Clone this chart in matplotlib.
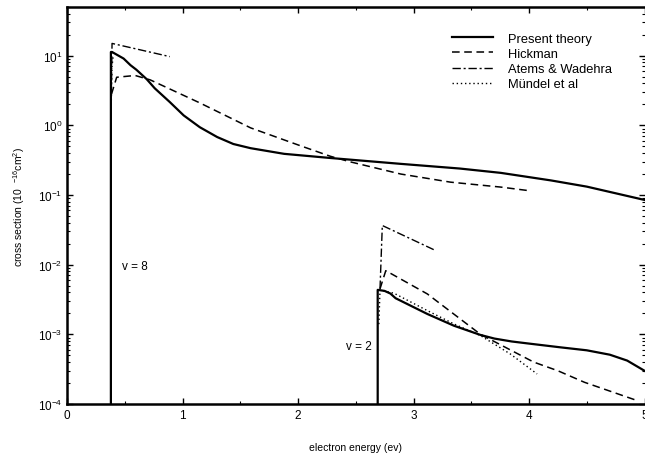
import matplotlib
matplotlib.use("Agg")
import matplotlib.pyplot as plt
from matplotlib.ticker import MultipleLocator, LogLocator, NullFormatter

plt.rcParams['font.family'] = ['Liberation Sans', 'DejaVu Sans']
plt.rcParams['mathtext.fontset'] = 'custom'
plt.rcParams['mathtext.rm'] = 'Liberation Sans'
plt.rcParams['mathtext.it'] = 'Liberation Sans'
plt.rcParams['axes.unicode_minus'] = False

# v = 8 branch
pt8_x = [0.38, 0.38, 0.39, 0.49, 0.55, 0.60, 0.69, 0.76, 0.89, 1.01, 1.15, 1.30, 1.44, 1.59, 1.88,
         2.28, 2.89, 3.40, 3.755, 4.19, 4.5, 5.0]
pt8_y = [1e-4, 11.3, 11.3, 9.1, 7.3, 6.3, 4.6, 3.4, 2.16, 1.39, 0.94, 0.68, 0.54, 0.47, 0.39,
         0.34, 0.28, 0.24, 0.208, 0.162, 0.132, 0.085]
hk8_x = [0.385, 0.43, 0.59, 0.72, 1.15, 1.59, 2.02, 2.28, 2.45, 2.89, 3.32, 3.755, 3.99]
hk8_y = [2.8, 4.9, 5.2, 4.5, 2.1, 0.92, 0.51, 0.36, 0.30, 0.20, 0.153, 0.13, 0.116]
aw8_x = [0.38, 0.39, 0.6, 0.89]
aw8_y = [0.9, 15.0, 12.5, 9.7]
mu8_x = [0.38, 0.385, 0.39, 0.40]
mu8_y = [1.0, 3.0, 7.0, 10.0]

# v = 2 branch
pt2_x = [2.69, 2.69, 2.75, 2.80, 2.845, 3.12, 3.35, 3.58, 3.70, 3.85, 3.99, 4.275, 4.50, 4.70, 4.85, 5.0]
pt2_y = [1e-4, 4.35e-3, 4.2e-3, 3.85e-3, 3.3e-3, 1.96e-3, 1.33e-3, 9.8e-4, 8.7e-4, 7.9e-4, 7.4e-4,
         6.5e-4, 5.9e-4, 5.1e-4, 4.2e-4, 3.0e-4]
hk2_x = [2.71, 2.76, 3.12, 3.58, 4.04, 4.25, 4.48, 4.95]
hk2_y = [4.5e-3, 8.2e-3, 3.8e-3, 1.0e-3, 4.0e-4, 3.0e-4, 2.05e-4, 1.1e-4]
aw2_x = [2.71, 2.73, 3.19]
aw2_y = [4.5e-3, 0.0365, 0.016]
mu2_x = [2.70, 2.71, 2.83, 3.12, 3.35, 3.58, 3.84, 4.07]
mu2_y = [1.4e-3, 4.3e-3, 3.9e-3, 2.19e-3, 1.41e-3, 9.6e-4, 5.2e-4, 2.7e-4]

fig = plt.figure(figsize=(6.45, 4.64), dpi=100)
ax = fig.add_axes([67/645, 59/464, 577.5/645, 397/464])

ax.plot(pt8_x, pt8_y, color='black', lw=1.6, ls='-', label='Present theory')
ax.plot(hk8_x, hk8_y, color='black', lw=1.1, ls=(0, (5, 3)), label='Hickman')
ax.plot(aw8_x, aw8_y, color='black', lw=1.0, ls=(0, (6, 2, 1.5, 2)), label='Atems & Wadehra')
ax.plot(mu8_x, mu8_y, color='black', lw=1.0, ls=(0, (1, 2)), label='M\u00fcndel et al')

ax.plot(pt2_x, pt2_y, color='black', lw=1.6, ls='-')
ax.plot(hk2_x, hk2_y, color='black', lw=1.1, ls=(0, (5, 3)))
ax.plot(aw2_x, aw2_y, color='black', lw=1.0, ls=(0, (6, 2, 1.5, 2)))
ax.plot(mu2_x, mu2_y, color='black', lw=1.0, ls=(0, (1, 2)))

ax.text(0.48, 9.6e-3, 'v = 8', fontsize=8.5, va='center', ha='left')
ax.text(2.64, 6.8e-4, 'v = 2', fontsize=8.5, va='center', ha='right')

ax.set_yscale('log')
ax.set_xlim(0, 5)
ax.set_ylim(1e-4, 50)
ax.xaxis.set_major_locator(MultipleLocator(1))
ax.xaxis.set_minor_locator(MultipleLocator(0.5))
ax.yaxis.set_major_locator(LogLocator(base=10, numticks=10))
ax.yaxis.set_minor_locator(LogLocator(base=10, subs=range(2, 10), numticks=20))
ax.yaxis.set_minor_formatter(NullFormatter())
ax.tick_params(which='both', direction='in', top=True, right=True, labelsize=8.5)
ax.tick_params(which='major', length=4, width=1)
ax.tick_params(which='minor', length=2.5, width=0.8)
for side in ['left', 'bottom', 'top']:
    ax.spines[side].set_linewidth(1.8)
ax.spines['right'].set_visible(False)

ax.set_xlabel('electron energy (ev)', fontsize=7.5, labelpad=15)
ax.set_ylabel(r'cross section (10  $^{-16}$cm$^{2}$)', fontsize=7.5, labelpad=8)

ax.legend(loc='upper right', bbox_to_anchor=(0.964, 0.965), frameon=False, fontsize=9.3,
          handlelength=3.2, handletextpad=1.15, labelspacing=0.25)

fig.savefig('out.png', dpi=100)
